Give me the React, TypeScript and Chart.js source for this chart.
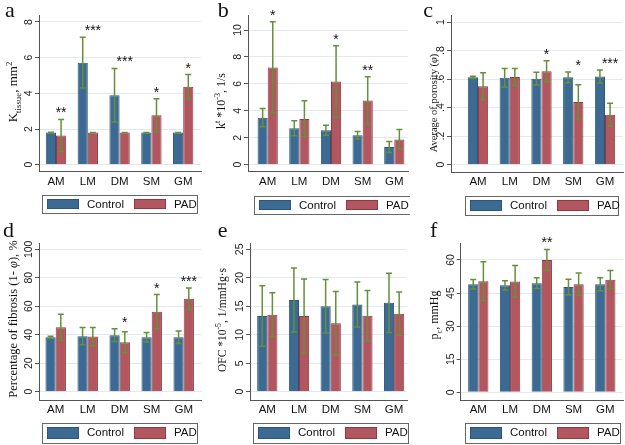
import React, { useEffect, useRef } from "react";
import { Chart, registerables } from "chart.js";

Chart.register(...registerables);

// ---------------- DATA ----------------
const categories = ["AM", "LM", "DM", "SM", "GM"];
const seriesLabels = ["Control", "PAD"];

// a: K_tissue, mm^2
const aControl = [1.8, 5.72, 3.9, 1.8, 1.8];
const aControlErr = [0.02, 1.42, 1.5, 0.01, 0.01];
const aPad = [1.64, 1.8, 1.8, 2.77, 4.37];
const aPadErr = [0.9, 0.01, 0.01, 0.93, 0.68];
const aStars = ["**", "***", "***", "*", "*"];
const aTicks = [0, 2, 4, 6, 8];

// b: k^t *10^-3, 1/s
const bControl = [3.49, 2.71, 2.56, 2.19, 1.31];
const bControlErr = [0.68, 0.56, 0.37, 0.28, 0.41];
const bPad = [7.22, 3.4, 6.18, 4.76, 1.88];
const bPadErr = [3.39, 1.35, 2.65, 1.77, 0.73];
const bStars = ["*", "", "*", "**", ""];
const bTicks = [0, 2, 4, 6, 8, 10];

// c: Average of porosity
const cControl = [0.612, 0.61, 0.603, 0.612, 0.618];
const cControlErr = [0.008, 0.065, 0.045, 0.038, 0.046];
const cPad = [0.55, 0.615, 0.655, 0.44, 0.35];
const cPadErr = [0.095, 0.06, 0.073, 0.12, 0.08];
const cStars = ["", "", "*", "*", "***"];
const cTicks = [0, 0.2, 0.4, 0.6, 0.8, 1];

// d: Percentage of fibrosis
const dControl = [38.2, 39.0, 39.7, 38.2, 38.2];
const dControlErr = [0.8, 6.0, 4.5, 3.3, 4.4];
const dPad = [45.2, 38.7, 34.8, 56.2, 65.2];
const dPadErr = [9.2, 6.4, 7.3, 12.0, 7.6];
const dStars = ["", "", "*", "*", "***"];
const dTicks = [0, 20, 40, 60, 80, 100];

// e: OFC *10^-5, 1/mmHg·s
const eControl = [13.3, 16.1, 15.0, 15.3, 15.6];
const eControlErr = [5.3, 5.6, 4.7, 3.95, 5.2];
const ePad = [13.5, 13.3, 12.0, 13.35, 13.7];
const ePadErr = [3.85, 6.5, 5.6, 4.4, 3.8];
const eStars = ["", "", "", "", ""];
const eTicks = [0, 5, 10, 15, 20, 25];

// f: p_c, mmHg
const fControl = [49.0, 48.5, 49.5, 47.7, 49.0];
const fControlErr = [2.2, 2.1, 2.4, 3.6, 3.0];
const fPad = [50.4, 50.3, 60.0, 49.0, 51.0];
const fPadErr = [8.8, 7.2, 4.8, 5.1, 4.2];
const fStars = ["", "", "**", "", ""];
const fTicks = [0, 15, 30, 45, 60];

// ---------------- STYLE ----------------
const CONTROL_FILL = "#3c6a92";
const CONTROL_BORDER = "#2b577c";
const PAD_FILL = "#b2575f";
const PAD_BORDER = "#8f3a43";
const ERR_COLOR = "#66903a";
const GRID_COLOR = "#e3eaef";
const AXIS_COLOR = "#555555";
const SANS = '"Liberation Sans", Arial, sans-serif';
const SERIF = '"Liberation Serif", "Times New Roman", serif';

type Seg = [string, "n" | "sub" | "sup" | "i"];

interface Panel {
  letter: string;
  left: number;
  top: number;
  width: number;
  height: number;
  area: { L: number; T: number; R: number; B: number };
  y0: number;
  yRefVal: number;
  yRefPx: number;
  x0: number;
  dx: number;
  ticks: number[];
  tickPad: number;
  fmt: (v: number) => string;
  control: number[];
  controlErr: number[];
  pad: number[];
  padErr: number[];
  stars: string[];
  title: Seg[];
  titleSize: number;
  titleX: number;
  titleY: number;
  letterX: number;
  letterY: number;
  legend: { x: number; y: number; w: number; h: number };
}

const intFmt = (v: number) => String(v);
const decFmt = (v: number) => (v === 0 ? "0" : v === 1 ? "1" : String(v).replace(/^0/, ""));

const panels: Panel[] = [
  {
    letter: "a", left: 0, top: 0, width: 205, height: 220,
    area: { L: 39, T: 15, R: 201, B: 171.5 },
    y0: 164.7, yRefVal: 8, yRefPx: 22, x0: 56, dx: 31.8,
    ticks: aTicks, tickPad: 3, fmt: intFmt,
    control: aControl, controlErr: aControlErr, pad: aPad, padErr: aPadErr, stars: aStars,
    title: [["K", "n"], ["tissue", "sub"], [", mm", "n"], ["2", "sup"]],
    titleSize: 13, titleX: 12.5, titleY: 92,
    letterX: 5, letterY: 17,
    legend: { x: 42, y: 195, w: 155, h: 18 },
  },
  {
    letter: "b", left: 205, top: 0, width: 205, height: 220,
    area: { L: 43, T: 15, R: 203, B: 171.5 },
    y0: 164.7, yRefVal: 10, yRefPx: 30, x0: 62.7, dx: 31.65,
    ticks: bTicks, tickPad: 0, fmt: intFmt,
    control: bControl, controlErr: bControlErr, pad: bPad, padErr: bPadErr, stars: bStars,
    title: [["k", "n"], ["t", "sup"], [" *10", "n"], ["-3", "sup"], [", 1/s", "n"]],
    titleSize: 12, titleX: 16, titleY: 101,
    letterX: 12.7, letterY: 16.7,
    legend: { x: 49, y: 196, w: 158, h: 18 },
  },
  {
    letter: "c", left: 410, top: 0, width: 215, height: 220,
    area: { L: 41, T: 15, R: 213, B: 172 },
    y0: 164.7, yRefVal: 1, yRefPx: 22, x0: 68, dx: 31.75,
    ticks: cTicks, tickPad: 1.5, fmt: decFmt,
    control: cControl, controlErr: cControlErr, pad: cPad, padErr: cPadErr, stars: cStars,
    title: [["Average of porosity (", "n"], ["φ", "i"], [")", "n"]],
    titleSize: 10.5, titleX: 23, titleY: 103,
    letterX: 13.3, letterY: 16.7,
    legend: { x: 55, y: 196, w: 153, h: 19 },
  },
  {
    letter: "d", left: 0, top: 220, width: 205, height: 225,
    area: { L: 39, T: 23.3, R: 201.7, B: 180 },
    y0: 171.7, yRefVal: 100, yRefPx: 29.3, x0: 55.7, dx: 32,
    ticks: dTicks, tickPad: -3, fmt: intFmt,
    control: dControl, controlErr: dControlErr, pad: dPad, padErr: dPadErr, stars: dStars,
    title: [["Percentage of fibrosis (1- ", "n"], ["φ", "i"], ["), %", "n"]],
    titleSize: 12.5, titleX: 13, titleY: 99,
    letterX: 3, letterY: 16.7,
    legend: { x: 42, y: 202.7, w: 155, h: 20 },
  },
  {
    letter: "e", left: 205, top: 220, width: 205, height: 225,
    area: { L: 45, T: 23.3, R: 202, B: 180 },
    y0: 171.7, yRefVal: 25, yRefPx: 29.3, x0: 62.3, dx: 31.7,
    ticks: eTicks, tickPad: 0, fmt: intFmt,
    control: eControl, controlErr: eControlErr, pad: ePad, padErr: ePadErr, stars: eStars,
    title: [["OFC *10", "n"], ["-5", "sup"], [", 1/mmHg·s", "n"]],
    titleSize: 11.5, titleX: 17, titleY: 100,
    letterX: 12.7, letterY: 16.7,
    legend: { x: 48, y: 202.7, w: 155, h: 20 },
  },
  {
    letter: "f", left: 410, top: 220, width: 215, height: 225,
    area: { L: 50.7, T: 23.3, R: 213, B: 180 },
    y0: 172.3, yRefVal: 60, yRefPx: 40, x0: 68.3, dx: 31.75,
    ticks: fTicks, tickPad: 0, fmt: intFmt,
    control: fControl, controlErr: fControlErr, pad: fPad, padErr: fPadErr, stars: fStars,
    title: [["p", "n"], ["c", "sub"], [", mmHg", "n"]],
    titleSize: 12, titleX: 24, titleY: 95,
    letterX: 20, letterY: 16.7,
    legend: { x: 55, y: 202.7, w: 155, h: 20 },
  },
];

function drawRotatedRich(ctx: CanvasRenderingContext2D, segs: Seg[], cx: number, cy: number, size: number) {
  const fontFor = (s: string) =>
    s === "sub" || s === "sup"
      ? `${size * 0.68}px ${SERIF}`
      : s === "i"
      ? `italic ${size}px ${SERIF}`
      : `${size}px ${SERIF}`;
  const widths = segs.map(([t, s]) => {
    ctx.font = fontFor(s);
    return ctx.measureText(t).width;
  });
  const total = widths.reduce((a, b) => a + b, 0);
  ctx.save();
  ctx.translate(cx, cy);
  ctx.rotate(-Math.PI / 2);
  ctx.fillStyle = "#111";
  ctx.textAlign = "left";
  ctx.textBaseline = "alphabetic";
  let x = -total / 2;
  const base = size * 0.35;
  segs.forEach(([t, s], i) => {
    ctx.font = fontFor(s);
    const dy = s === "sub" ? size * 0.28 : s === "sup" ? -size * 0.42 : 0;
    ctx.fillText(t, x, base + dy);
    x += widths[i];
  });
  ctx.restore();
}

function makeChart(canvas: HTMLCanvasElement, p: Panel) {
  const { L, T, R, B } = p.area;
  const ppu = (p.y0 - p.yRefPx) / p.yRefVal;
  const ymax = (p.y0 - T) / ppu;
  const ymin = (p.y0 - B) / ppu;
  const xmin = (L - p.x0) / p.dx;
  const xmax = (R - p.x0) / p.dx;
  const YW = 30;
  const XH = 24;

  const decor = {
    id: "decor" + p.letter,
    afterDatasetsDraw(chart: any) {
      const ctx: CanvasRenderingContext2D = chart.ctx;
      const ys = chart.scales.y;
      const sets: [number[], number[]][] = [
        [p.control, p.controlErr],
        [p.pad, p.padErr],
      ];
      ctx.save();
      ctx.strokeStyle = ERR_COLOR;
      ctx.lineWidth = 1.5;
      sets.forEach(([vals, errs], di) => {
        const meta = chart.getDatasetMeta(di);
        meta.data.forEach((el: any, j: number) => {
          const x = el.x;
          const yt = ys.getPixelForValue(vals[j] + errs[j]);
          const yb = ys.getPixelForValue(vals[j] - errs[j]);
          ctx.beginPath();
          ctx.moveTo(x, yt);
          ctx.lineTo(x, yb);
          ctx.moveTo(x - 3, yt);
          ctx.lineTo(x + 3, yt);
          ctx.moveTo(x - 3, yb);
          ctx.lineTo(x + 3, yb);
          ctx.stroke();
        });
      });
      // significance stars
      const padMeta = chart.getDatasetMeta(1);
      const fs = 14;
      ctx.fillStyle = "#111";
      ctx.font = `${fs}px ${SANS}`;
      ctx.textAlign = "center";
      ctx.textBaseline = "alphabetic";
      p.stars.forEach((s, j) => {
        if (!s) return;
        const top = Math.min(
          ys.getPixelForValue(p.control[j] + p.controlErr[j]),
          ys.getPixelForValue(p.pad[j] + p.padErr[j])
        );
        const x = padMeta.data[j].x;
        ctx.fillText(s, x, top - 10 + 0.57 * fs);
      });
      ctx.restore();
    },
    afterDraw(chart: any) {
      const ctx: CanvasRenderingContext2D = chart.ctx;
      ctx.save();
      // legend
      const lg = p.legend;
      ctx.fillStyle = "#fff";
      ctx.fillRect(lg.x, lg.y, lg.w, lg.h);
      ctx.strokeStyle = "#666";
      ctx.lineWidth = 1;
      ctx.strokeRect(Math.round(lg.x) + 0.5, Math.round(lg.y) + 0.5, Math.round(lg.w), Math.round(lg.h));
      chart.data.datasets.forEach((ds: any, i: number) => {
        const sx = Math.round(lg.x) + 5 + i * 87;
        const sy = Math.round(lg.y) + 4;
        const sh = Math.round(lg.h) - 8;
        ctx.fillStyle = ds.backgroundColor;
        ctx.fillRect(sx, sy, 32, sh);
        ctx.strokeStyle = ds.borderColor;
        ctx.strokeRect(sx + 0.5, sy + 0.5, 31, sh - 1);
        ctx.fillStyle = "#111";
        ctx.font = `11.5px ${SANS}`;
        ctx.textAlign = "left";
        ctx.textBaseline = "middle";
        ctx.fillText(ds.label, sx + 40, lg.y + lg.h / 2 + 0.5);
      });
      // axis title
      drawRotatedRich(ctx, p.title, p.titleX, p.titleY, p.titleSize);
      // panel letter
      ctx.fillStyle = "#111";
      ctx.font = `22px ${SERIF}`;
      ctx.textAlign = "left";
      ctx.textBaseline = "alphabetic";
      ctx.fillText(p.letter, p.letterX, p.letterY);
      ctx.restore();
    },
  };

  return new Chart(canvas, {
    type: "bar",
    data: {
      datasets: [
        {
          label: seriesLabels[0],
          data: p.control.map((v, i) => ({ x: i, y: v })),
          backgroundColor: CONTROL_FILL,
          borderColor: CONTROL_BORDER,
          borderWidth: 1,
          categoryPercentage: 0.64,
          barPercentage: 1,
        },
        {
          label: seriesLabels[1],
          data: p.pad.map((v, i) => ({ x: i, y: v })),
          backgroundColor: PAD_FILL,
          borderColor: PAD_BORDER,
          borderWidth: 1,
          categoryPercentage: 0.64,
          barPercentage: 1,
        },
      ] as any,
    },
    options: {
      responsive: false,
      animation: false,
      events: [],
      layout: {
        padding: { left: L - YW, top: T, right: p.width - R, bottom: p.height - B - XH },
      },
      plugins: {
        legend: { display: false },
        tooltip: { enabled: false },
        title: { display: false },
      },
      scales: {
        x: {
          type: "linear",
          offset: false,
          min: xmin,
          max: xmax,
          afterBuildTicks: (s: any) => {
            s.ticks = categories.map((_, i) => ({ value: i }));
          },
          afterFit: (s: any) => {
            s.height = XH;
          },
          ticks: {
            autoSkip: false,
            maxRotation: 0,
            minRotation: 0,
            padding: 3,
            color: "#111",
            font: { family: SANS, size: 11.5 },
            callback: (v: any) => categories[Number(v)] ?? "",
          },
          grid: { display: false, drawTicks: false, offset: false },
          border: { display: true, color: AXIS_COLOR, width: 1 },
        },
        y: {
          type: "linear",
          min: ymin,
          max: ymax,
          afterBuildTicks: (s: any) => {
            s.ticks = p.ticks.map((v) => ({ value: v }));
          },
          afterFit: (s: any) => {
            s.width = YW;
          },
          ticks: {
            autoSkip: false,
            minRotation: 90,
            maxRotation: 90,
            crossAlign: "center",
            padding: p.tickPad,
            color: "#222",
            font: { family: SANS, size: 10.5 },
            callback: (v: any) => p.fmt(Number(v)),
          },
          grid: { color: GRID_COLOR, tickColor: AXIS_COLOR, tickLength: 4, lineWidth: 1 },
          border: { display: true, color: AXIS_COLOR, width: 1 },
        },
      } as any,
    },
    plugins: [decor as any],
  });
}

function PanelChart({ p }: { p: Panel }) {
  const ref = useRef<HTMLCanvasElement | null>(null);
  useEffect(() => {
    if (!ref.current) return;
    const chart = makeChart(ref.current, p);
    return () => chart.destroy();
  }, [p]);
  return (
    <canvas
      ref={ref}
      width={p.width}
      height={p.height}
      style={{ position: "absolute", left: p.left, top: p.top, width: p.width, height: p.height }}
    />
  );
}

export default function App() {
  return (
    <div
      style={{
        position: "absolute",
        left: 0,
        top: 0,
        width: 625,
        height: 445,
        background: "#ffffff",
        overflow: "hidden",
      }}
    >
      {panels.map((p) => (
        <PanelChart key={p.letter} p={p} />
      ))}
    </div>
  );
}
